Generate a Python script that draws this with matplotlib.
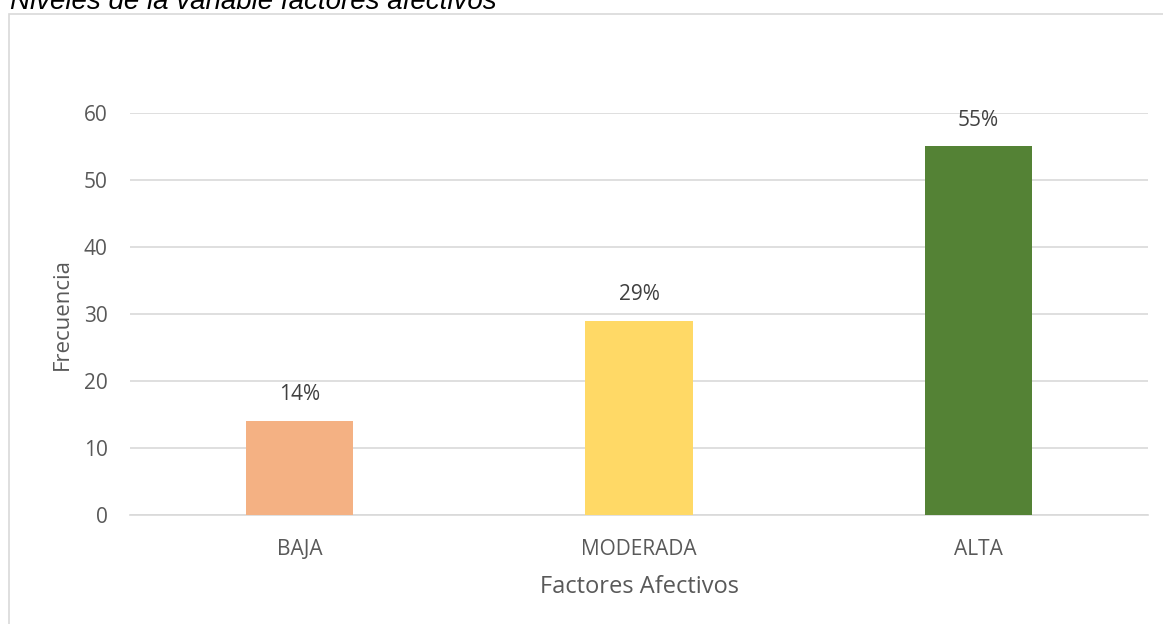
import matplotlib
matplotlib.use('Agg')
import matplotlib.pyplot as plt
from matplotlib.patches import Rectangle

# data
categorias = ['BAJA', 'MODERADA', 'ALTA']
frecuencia = [14, 29, 55]
etiquetas = ['14%', '29%', '55%']
colores = ['#F4B183', '#FFD966', '#548235']

plt.rcParams['font.family'] = ['Open Sans', 'DejaVu Sans']
gris = '#595959'

fig = plt.figure(figsize=(11.63, 6.24), dpi=100)
ax = fig.add_axes([0.1118, 0.1747, 0.8753, 0.6443])

# chart border (cut at right and bottom like the original)
fig.patches.append(Rectangle((9 / 1163, -0.1), 1.2, 1.1 - 14 / 624,
                             transform=fig.transFigure, fill=False,
                             edgecolor='#d9d9d9', linewidth=1.2))

fig.text(10 / 1163, 1 - 9 / 624, 'Niveles de la variable factores afectivos',
         family='Liberation Sans', style='italic', fontsize=20, color='black',
         va='baseline', ha='left')

x = range(len(categorias))
bars = ax.bar(x, frecuencia, width=0.316, color=colores, zorder=3)
for b, lab in zip(bars, etiquetas):
    ax.annotate(lab, (b.get_x() + b.get_width() / 2, b.get_height()),
                xytext=(0, 19), textcoords='offset points', ha='center',
                va='center', fontsize=15, color='#404040')

ax.set_xlim(-0.5, 2.5)
ax.set_ylim(0, 60)
ax.set_yticks(range(0, 61, 10))
ax.set_xticks(list(x))
ax.set_xticklabels(categorias)
ax.yaxis.grid(True, color='#d9d9d9', linewidth=1.2, zorder=0)
for s in ['top', 'right', 'left']:
    ax.spines[s].set_visible(False)
ax.spines['bottom'].set_color('#d9d9d9')
ax.spines['bottom'].set_linewidth(1.2)
ax.tick_params(axis='both', length=0, labelsize=15, labelcolor=gris)
ax.tick_params(axis='y', pad=16)
ax.tick_params(axis='x', pad=17)
ax.set_xlabel('Factores Afectivos', fontsize=17, color=gris, labelpad=11)
ax.set_ylabel('Frecuencia', fontsize=16, color=gris, labelpad=8)

fig.savefig('out.png', dpi=100)
